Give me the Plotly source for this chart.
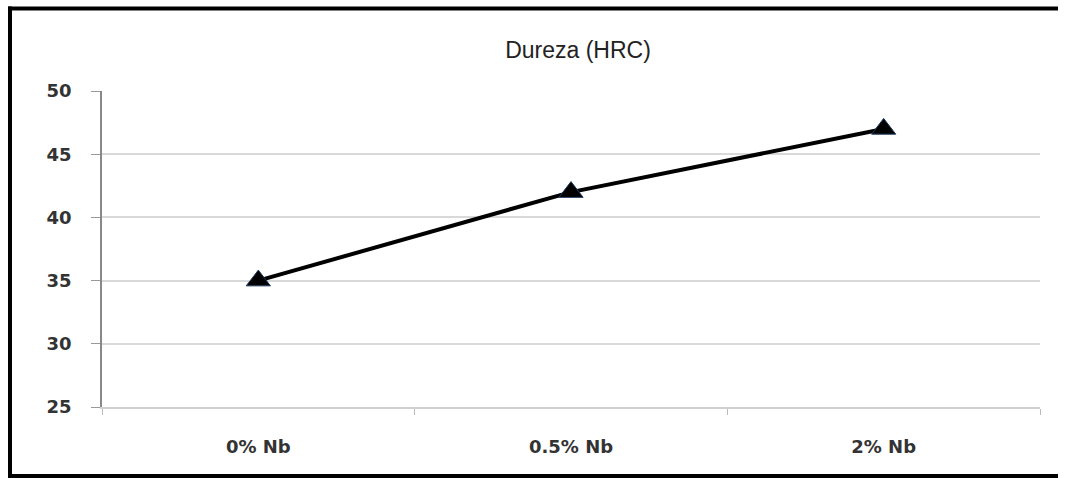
import plotly.graph_objects as go

categories = ["0% Nb", "0.5% Nb", "2% Nb"]
hardness = [35, 42, 47]
y_ticks = [25, 30, 35, 40, 45, 50]
title_text = "Dureza (HRC)"

W, H = 1067, 478
ml, mr, mt, mb = 102, 27, 91, 71
pw, ph = W - ml - mr, H - mt - mb

def px(x):
    return (x - ml) / pw

def py(y):
    return (H - mb - y) / ph

fig = go.Figure()
fig.add_trace(go.Scatter(
    x=categories, y=hardness, mode="lines+markers",
    line=dict(color="black", width=4),
    marker=dict(symbol="triangle-up", size=21, color="black",
                line=dict(color="#1f3a5f", width=1)),
    showlegend=False, cliponaxis=False,
))

frame = dict(color="black", width=4)
fig.update_layout(
    width=W, height=H,
    margin=dict(l=ml, r=mr, t=mt, b=mb),
    paper_bgcolor="white", plot_bgcolor="white",
    title=dict(text=title_text, xref="container", x=578 / W, xanchor="center",
               yref="container", y=1 - 50 / H, yanchor="middle",
               font=dict(family="Liberation Sans, Arial", size=23, color="#222")),
    xaxis=dict(
        type="category", range=[-0.5, 2.5],
        tickson="boundaries", ticks="outside", ticklen=6, tickcolor="#bbb",
        showline=True, linecolor="#d0d0d0", linewidth=2,
        showgrid=False, zeroline=False,
        ticklabelstandoff=22,
        tickfont=dict(family="DejaVu Sans", size=18, color="#333", weight="bold"),
    ),
    yaxis=dict(
        range=[25, 50], tickvals=y_ticks,
        ticks="outside", ticklen=9, tickcolor="#999",
        showline=True, linecolor="#888", linewidth=1.5,
        showgrid=True, gridcolor="#d9d9d9", gridwidth=2,
        zeroline=False,
        ticklabelstandoff=16,
        tickfont=dict(family="DejaVu Sans", size=18, color="#333", weight="bold"),
    ),
    shapes=[
        dict(type="line", xref="paper", yref="paper",
             x0=px(10), x1=px(10), y0=py(478), y1=py(6.5), line=frame, layer="above"),
        dict(type="line", xref="paper", yref="paper",
             x0=px(8), x1=px(1058), y0=py(8.5), y1=py(8.5), line=frame, layer="above"),
        dict(type="line", xref="paper", yref="paper",
             x0=px(8), x1=px(1058), y0=py(476), y1=py(476), line=frame, layer="above"),
    ],
)

fig.write_html("out.html")
